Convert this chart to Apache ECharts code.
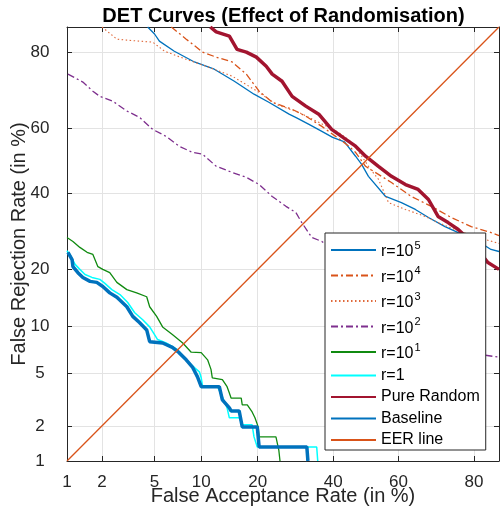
<!DOCTYPE html>
<html><head><meta charset="utf-8">
<script src="https://cdn.jsdelivr.net/npm/echarts@6/dist/echarts.min.js"></script>
<style>html,body{margin:0;padding:0;background:#fff}#c{width:500px;height:508px}</style>
</head><body><div id="c"></div>
<script>
// ---- data (FAR %, FRR %) ----
const xTicks = [1, 2, 5, 10, 20, 40, 60, 80];
const yTicks = [1, 2, 5, 10, 20, 40, 60, 80];
const axisRange = [1, 85];

const r1e5 = [[4.47,85],[5.0,83.7],[5.4,82.3],[6.8,80.2],[9.1,77.8],[11.9,76.1],[15.3,73.1],[19.2,69.7],[22.5,67.5],[27.5,64.1],[29.5,63.0],[32.9,61.1],[36.6,59.0],[39.8,57.2],[43.4,55.8],[46.8,51.4],[48.7,48.9],[50.8,45.2],[56.1,39.1],[60.9,37.3],[65.0,35.3],[68.7,33.0],[73.1,30.5],[76.4,28.9],[80.9,26.6],[83.5,24.6],[85,24.1]];
const r1e4 = [[6.5,85],[8.1,82.7],[10.2,80.0],[12.2,78.9],[14.9,77.8],[17.6,74.9],[20.3,70.5],[23.3,67.5],[28.3,65.5],[32.0,63.5],[36.6,60.5],[40.7,57.5],[44.7,54.5],[46.8,52.6],[49.9,48.3],[57.9,43.3],[63.8,39.1],[69.5,36.2],[74.7,33.0],[79.4,30.5],[83.5,28.9],[85,28.1]];
const r1e3 = [[2.0,85],[2.63,82.7],[3.14,82.5],[3.9,82.3],[4.85,82.1],[5.86,80.2],[8.1,78.4],[10.7,76.8],[14.9,74.4],[20.3,70.2],[24.2,66.9],[30.1,64.6],[35.7,61.7],[41.6,58.7],[45.6,55.7],[48.7,51.4],[51.5,47.3],[53.9,44.3],[57.0,37.3],[62.1,35.3],[67.8,33.3],[71.3,31.6],[75.6,29.7],[80.9,27.6],[85,26.1]];
const r1e2 = [[1.02,74.9],[1.38,72.9],[1.68,70.5],[1.92,69.1],[2.44,67.8],[3.14,65.0],[3.9,63.2],[4.85,59.6],[6.0,57.5],[7.3,54.5],[8.85,52.6],[10.2,52.0],[12.2,48.3],[14.9,46.4],[17.6,44.9],[20.3,42.7],[23.3,39.1],[26.7,36.2],[29.3,34.4],[30.9,31.6],[33.7,27.6],[36.6,26.6],[41.6,23.4],[53.9,17.8],[68.7,10.9],[80.9,7.2],[82.3,6.6],[85,6.4]];
const r1e1 = [[1.0,27.6],[1.13,26.6],[1.30,25.1],[1.50,23.9],[1.68,23.4],[1.85,20.6],[2.03,20.0],[2.31,19.3],[2.63,17.3],[3.14,15.9],[3.72,15.3],[4.4,14.6],[4.62,12.9],[5.17,11.4],[5.68,9.9],[6.6,8.9],[7.7,7.9],[8.7,6.9],[10.0,6.85],[10.9,6.15],[11.4,5.3],[11.6,4.63],[13.2,4.5],[14.0,4.0],[14.4,3.6],[14.7,3.3],[16.6,3.3],[16.8,2.93],[17.8,2.93],[18.8,2.58],[19.4,2.32],[20.1,1.96],[20.3,1.62],[24.2,1.62],[24.9,1.25],[25.2,1.0]];
const r1 = [[1.0,24.3],[1.06,23.4],[1.18,21.1],[1.30,20.0],[1.44,18.9],[1.65,18.3],[1.92,17.9],[2.11,17.1],[2.40,15.9],[2.78,15.0],[3.19,13.6],[3.6,11.95],[4.12,10.9],[4.62,9.9],[5.0,8.9],[5.25,8.3],[6.0,7.9],[7.1,7.2],[8.1,6.15],[9.1,5.45],[9.75,5.1],[10.0,4.63],[10.2,4.0],[12.4,4.0],[13.2,3.37],[14.0,2.78],[14.4,2.32],[16.2,2.32],[16.8,2.04],[18.8,2.04],[19.2,1.62],[19.9,1.33],[35.1,1.33],[35.4,1.0]];
const pureRandom = [[11.3,85],[12.2,84.1],[14.4,83.3],[15.8,80.6],[17.6,80.0],[19.7,78.9],[21.9,76.8],[23.3,74.9],[25.7,73.1],[28.3,69.1],[32.0,66.4],[35.7,64.1],[39.5,59.6],[43.8,56.6],[46.8,54.5],[49.9,51.4],[53.9,48.3],[57.9,45.2],[62.1,42.7],[65.8,41.2],[68.7,38.2],[71.3,33.3],[73.9,31.6],[76.4,29.7],[79.4,26.5],[82.9,21.5],[85,20.0]];
const baseline = [[1.02,23.9],[1.11,22.2],[1.13,20.6],[1.25,19.3],[1.38,18.3],[1.59,17.5],[1.81,17.3],[2.03,16.5],[2.31,15.3],[2.63,14.5],[3.14,12.9],[3.48,11.4],[3.9,10.5],[4.4,9.5],[4.62,8.05],[5.68,7.9],[6.6,7.4],[7.3,6.85],[8.1,6.15],[8.85,5.5],[9.5,4.7],[10.0,4.0],[12.7,4.0],[13.2,3.2],[14.4,2.78],[14.7,2.63],[16.2,2.63],[16.8,1.96],[19.9,1.96],[20.3,1.33],[32.3,1.33],[32.6,1.0]];
const eerLine = [[1,1],[85,85]];

// ---- probit (inverse normal CDF), Acklam ----
function probit(p){
  const a=[-3.969683028665376e+01,2.209460984245205e+02,-2.759285104469687e+02,1.383577518672690e+02,-3.066479806614716e+01,2.506628277459239e+00];
  const b=[-5.447609879822406e+01,1.615858368580409e+02,-1.556989798598866e+02,6.680131188771972e+01,-1.328068155288572e+01];
  const c=[-7.784894002430293e-03,-3.223964580411365e-01,-2.400758277161838e+00,-2.549732539343734e+00,4.374664141464968e+00,2.938163982698783e+00];
  const d=[7.784695709041462e-03,3.224671290700398e-01,2.445134137142996e+00,3.754408661907416e+00];
  const pl=0.02425, ph=1-pl; let q, r;
  if(p<pl){q=Math.sqrt(-2*Math.log(p));return (((((c[0]*q+c[1])*q+c[2])*q+c[3])*q+c[4])*q+c[5])/((((d[0]*q+d[1])*q+d[2])*q+d[3])*q+1);}
  if(p<=ph){q=p-0.5;r=q*q;return (((((a[0]*r+a[1])*r+a[2])*r+a[3])*r+a[4])*r+a[5])*q/(((((b[0]*r+b[1])*r+b[2])*r+b[3])*r+b[4])*r+1);}
  q=Math.sqrt(-2*Math.log(1-p));return -(((((c[0]*q+c[1])*q+c[2])*q+c[3])*q+c[4])*q+c[5])/((((d[0]*q+d[1])*q+d[2])*q+d[3])*q+1);
}
const P = v => probit(v/100);
const tr = pt => [P(pt[0]), P(pt[1])];
const AMIN = P(axisRange[0]), AMAX = P(axisRange[1]);
const xTickVals = xTicks.map(P), yTickVals = yTicks.map(P);
function fmt(ticks){
  return function(v){
    let best = ticks[0], bd = Infinity;
    ticks.forEach(t => { const dd = Math.abs(P(t) - v); if (dd < bd) { bd = dd; best = t; } });
    return String(best);
  };
}

const FONT = "'Liberation Sans', Arial, Helvetica, sans-serif";
const AX = '#262626';
function mk(name, data, color, width, type){
  return { name, type:'line', data: data.map(tr), symbol:'none', showSymbol:false,
    lineStyle:{ color, width, type: type || 'solid', cap:'butt' }, itemStyle:{ color },
    emphasis:{ disabled:true }, clip:true, animation:false };
}

const chart = echarts.init(document.getElementById('c'), null, { renderer:'canvas' });
chart.setOption({
  animation:false,
  backgroundColor:'#fff',
  textStyle:{ fontFamily: FONT },
  title:{ text:'DET Curves (Effect of Randomisation)', left:278.5, textAlign:'center', top:1,
    textStyle:{ fontSize:20, fontWeight:'bold', color:'#000', fontFamily:FONT } },
  grid:{ left:67, right:1, top:27, bottom:47, containLabel:false, outerBoundsMode:'none' },
  xAxis:[{
    type:'value', min:AMIN, max:AMAX, position:'bottom',
    name:'False Acceptance Rate (in %)', nameLocation:'middle', nameGap:25, nameMoveOverlap:false,
    nameTextStyle:{ fontSize:20, color:AX, fontFamily:FONT },
    axisLine:{ show:true, onZero:false, lineStyle:{ color:AX, width:1 } },
    axisTick:{ show:true, inside:true, length:5, customValues:xTickVals, lineStyle:{ color:AX } },
    axisLabel:{ customValues:xTickVals, formatter:fmt(xTicks), fontSize:17, color:AX, margin:13, fontFamily:FONT },
    splitLine:{ show:true, lineStyle:{ color:'#e3e3e3', width:1 } }
  },{
    type:'value', min:AMIN, max:AMAX, position:'top',
    axisLine:{ show:true, onZero:false, lineStyle:{ color:AX, width:1 } },
    axisTick:{ show:true, inside:true, length:5, customValues:xTickVals, lineStyle:{ color:AX } },
    axisLabel:{ show:false }, splitLine:{ show:false }
  }],
  yAxis:[{
    type:'value', min:AMIN, max:AMAX, position:'left',
    name:'False Rejection Rate (in %)', nameLocation:'middle', nameGap:38, nameMoveOverlap:false,
    nameTextStyle:{ fontSize:20, color:AX, fontFamily:FONT },
    axisLine:{ show:true, onZero:false, lineStyle:{ color:AX, width:1 } },
    axisTick:{ show:true, inside:true, length:5, customValues:yTickVals, lineStyle:{ color:AX } },
    axisLabel:{ customValues:yTickVals, formatter:fmt(yTicks), fontSize:17, color:AX, margin:27, align:'center', fontFamily:FONT },
    splitLine:{ show:true, lineStyle:{ color:'#e3e3e3', width:1 } }
  },{
    type:'value', min:AMIN, max:AMAX, position:'right',
    axisLine:{ show:true, onZero:false, lineStyle:{ color:AX, width:1 } },
    axisTick:{ show:true, inside:true, length:5, customValues:yTickVals, lineStyle:{ color:AX } },
    axisLabel:{ show:false }, splitLine:{ show:false }
  }],
  legend:{
    orient:'vertical', left:325, top:233, selectedMode:false,
    backgroundColor:'#fff', borderColor:AX, borderWidth:1, borderRadius:0,
    padding:[7,6,2,5], itemWidth:45, itemHeight:14, itemGap:5.5,
    itemStyle:{ opacity:0 },
    textStyle:{ fontSize:16, color:'#000', fontFamily:FONT,
      rich:{ b:{ fontSize:16, verticalAlign:'bottom', fontFamily:FONT, color:'#000' },
             s:{ fontSize:11, verticalAlign:'top', padding:[0,0,9,1], fontFamily:FONT, color:'#000' } } },
    formatter: name => name.indexOf('^') >= 0 ? name.replace(/^(.*)\^(\d+)$/, '{b|$1}{s|$2}') : name,
    data:['r=10^5','r=10^4','r=10^3','r=10^2','r=10^1','r=1','Pure Random','Baseline','EER line']
  },
  series:[
    mk('r=10^5', r1e5, '#0072BD', 1.3),
    mk('r=10^4', r1e4, '#D95319', 1.3, [7,3,2,3]),
    mk('r=10^3', r1e3, '#E0693A', 1.1, [1.5,2.5]),
    mk('r=10^2', r1e2, '#7E2F8E', 1.3, [7,3,2,3]),
    mk('r=10^1', r1e1, '#108A10', 1.3),
    mk('r=1', r1, '#00FFFF', 1.5),
    mk('Pure Random', pureRandom, '#A2142F', 3.5),
    mk('Baseline', baseline, '#0072BD', 3.5),
    mk('EER line', eerLine, '#D95319', 1.3)
  ]
});
</script></body></html>
